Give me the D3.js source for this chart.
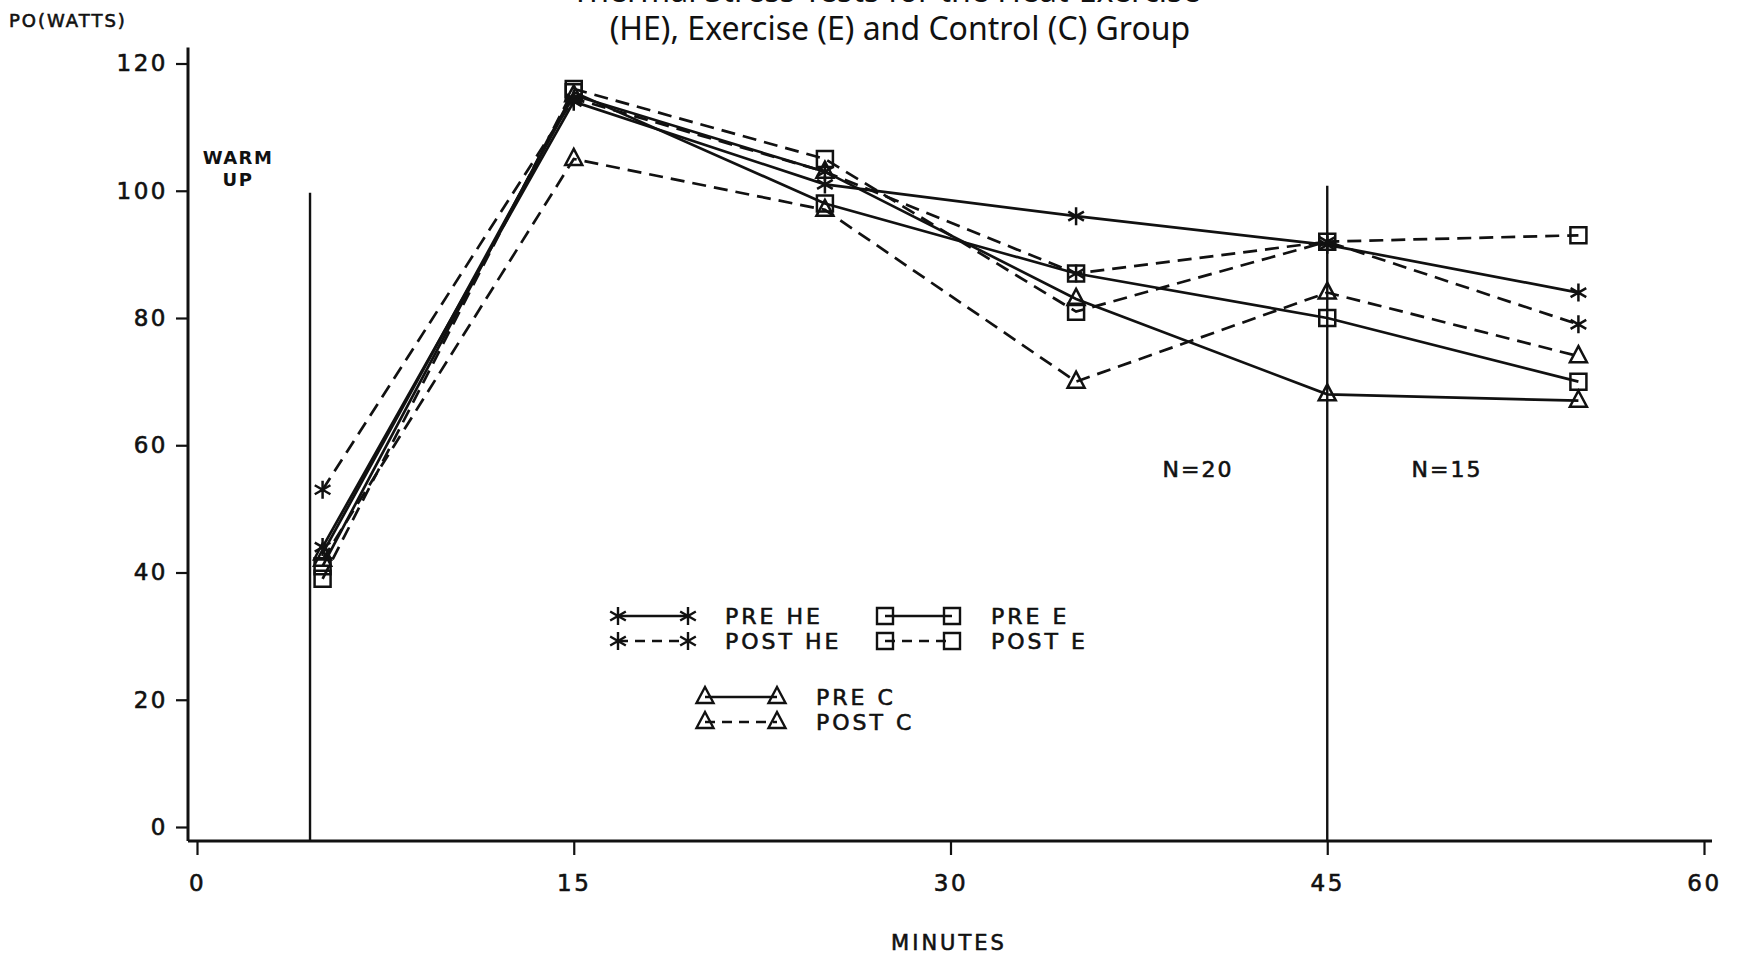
<!DOCTYPE html>
<html>
<head>
<meta charset="utf-8">
<script src="https://cdn.jsdelivr.net/npm/d3@7"></script>
<style>
  body { margin: 0; background: #fff; }
  svg { display: block; }
  text { font-family: "DejaVu Sans", sans-serif; fill: #111; }
  .plot { stroke: #111; stroke-width: 0.6px; }
</style>
</head>
<body>
<script>
// minutes of each measurement
var minutes = [5, 15, 25, 35, 45, 55];

// power output (watts)
var preHE  = [44, 114, 101, 96, 91.5, 84];
var postHE = [53, 114.5, 103, 87, 92, 79];
var preE   = [41, 115.5, 98, 87, 80, 70];
var postE  = [39, 116, 105, 81, 92, 93];
var preC   = [43, 115, 103, 83, 68, 67];
var postC  = [42, 105, 97, 70, 84, 74];

var yTicks = [0, 20, 40, 60, 80, 100, 120];
var xTicks = [0, 15, 30, 45, 60];

var series = [
  {name: "PRE HE",  values: preHE,  mark: "star",   dashed: false},
  {name: "POST HE", values: postHE, mark: "star",   dashed: true},
  {name: "PRE E",   values: preE,   mark: "square", dashed: false},
  {name: "POST E",  values: postE,  mark: "square", dashed: true},
  {name: "PRE C",   values: preC,   mark: "tri",    dashed: false},
  {name: "POST C",  values: postC,  mark: "tri",    dashed: true}
];

var width = 1741, height = 956;

var svg = d3.select("body").append("svg")
  .attr("width", width)
  .attr("height", height);

var x = d3.scaleLinear().domain([0, 60]).range([197, 1704]);
var y = d3.scaleLinear().domain([0, 120]).range([827, 63.5]);
var axisY = 841; // x axis sits a little below zero

// marker shapes, centred on 0,0
function markPath(kind) {
  var p = d3.path();
  if (kind === "star") {
    var r = 9;
    p.moveTo(0, -r); p.lineTo(0, r);
    p.moveTo(-r * 0.87, -r * 0.5); p.lineTo(r * 0.87, r * 0.5);
    p.moveTo(-r * 0.87, r * 0.5); p.lineTo(r * 0.87, -r * 0.5);
  } else if (kind === "square") {
    p.rect(-8, -8, 16, 16);
  } else {
    p.moveTo(0, -10); p.lineTo(8.5, 6); p.lineTo(-8.5, 6); p.closePath();
  }
  return p.toString();
}

// title (top line runs off the page in the original)
svg.append("text")
  .attr("x", 886).attr("y", 2)
  .attr("text-anchor", "middle")
  .style("font-size", "32px")
  .style("font-family", "'Noto Sans', sans-serif")
  .text("Thermal Stress Tests for the Heat-Exercise");

svg.append("text")
  .attr("x", 900).attr("y", 40)
  .attr("text-anchor", "middle")
  .style("font-size", "32px")
  .style("font-family", "'Noto Sans', sans-serif")
  .text("(HE), Exercise (E) and Control (C) Group");

svg.append("text")
  .attr("class", "plot")
  .attr("x", 9).attr("y", 27)
  .style("font-size", "18px")
  .style("letter-spacing", "2px")
  .text("PO(WATTS)");

// y axis
var gy = svg.append("g").attr("transform", "translate(188,0)");
gy.call(d3.axisLeft(y).tickValues(d3.range(0, 121, 5)).tickSize(5).tickFormat(""));
gy.call(d3.axisLeft(y).tickValues(yTicks).tickSize(12).tickPadding(8));
gy.selectAll(".domain").remove();
gy.selectAll(".tick line").attr("stroke", "#111").attr("stroke-width", 2.2);
gy.selectAll(".tick text")
  .attr("class", "plot")
  .style("font-size", "23px")
  .style("letter-spacing", "2.5px")
  .style("font-family", "'DejaVu Sans', sans-serif");

svg.append("line")
  .attr("x1", 188).attr("x2", 188)
  .attr("y1", y(122.5)).attr("y2", axisY)
  .attr("stroke", "#111").attr("stroke-width", 3);

// x axis
var gx = svg.append("g").attr("transform", "translate(0," + axisY + ")");
gx.call(d3.axisBottom(x).tickValues(d3.range(7.5, 60, 15)).tickSize(8).tickFormat(""));
gx.call(d3.axisBottom(x).tickValues(xTicks).tickSize(14).tickPadding(20));
gx.selectAll(".domain").remove();
gx.selectAll(".tick line").attr("stroke", "#111").attr("stroke-width", 2.2);
gx.selectAll(".tick text")
  .attr("class", "plot")
  .style("font-size", "23px")
  .style("letter-spacing", "2.5px")
  .style("font-family", "'DejaVu Sans', sans-serif");

svg.append("line")
  .attr("x1", 188).attr("x2", 1712)
  .attr("y1", axisY).attr("y2", axisY)
  .attr("stroke", "#111").attr("stroke-width", 3.2);

svg.append("text")
  .attr("class", "plot")
  .attr("x", 949).attr("y", 950)
  .attr("text-anchor", "middle")
  .style("font-size", "21px")
  .style("letter-spacing", "3px")
  .text("MINUTES");

// warm up and N split lines
svg.append("line")
  .attr("x1", x(4.5)).attr("x2", x(4.5))
  .attr("y1", y(99.7)).attr("y2", axisY)
  .attr("stroke", "#111").attr("stroke-width", 2.4);
svg.append("line")
  .attr("x1", x(45)).attr("x2", x(45))
  .attr("y1", y(100.8)).attr("y2", axisY)
  .attr("stroke", "#111").attr("stroke-width", 2.4);

svg.append("text")
  .attr("x", 238).attr("y", 164)
  .attr("text-anchor", "middle")
  .style("font-size", "18px").style("font-weight", "bold")
  .style("letter-spacing", "1.5px")
  .text("WARM");
svg.append("text")
  .attr("x", 238).attr("y", 186)
  .attr("text-anchor", "middle")
  .style("font-size", "18px").style("font-weight", "bold")
  .style("letter-spacing", "1.5px")
  .text("UP");

svg.append("text")
  .attr("class", "plot")
  .attr("x", 1198).attr("y", 477)
  .attr("text-anchor", "middle")
  .style("font-size", "22px").style("letter-spacing", "2px")
  .text("N=20");
svg.append("text")
  .attr("class", "plot")
  .attr("x", 1447).attr("y", 477)
  .attr("text-anchor", "middle")
  .style("font-size", "22px").style("letter-spacing", "2px")
  .text("N=15");

// data lines
var line = d3.line()
  .x(function(d, i) { return x(minutes[i]); })
  .y(function(d) { return y(d); });

var groups = svg.selectAll("g.series")
  .data(series)
  .enter().append("g")
  .attr("class", "series");

groups.append("path")
  .attr("d", function(d) { return line(d.values); })
  .attr("fill", "none")
  .attr("stroke", "#111")
  .attr("stroke-width", 2.7)
  .attr("stroke-dasharray", function(d) { return d.dashed ? "14,8" : null; });

groups.selectAll("path.mark")
  .data(function(d) { return d.values.map(function(v, i) { return {v: v, i: i, mark: d.mark}; }); })
  .enter().append("path")
  .attr("class", "mark")
  .attr("d", function(d) { return markPath(d.mark); })
  .attr("transform", function(d) { return "translate(" + x(minutes[d.i]) + "," + y(d.v) + ")"; })
  .attr("fill", "none")
  .attr("stroke", "#111")
  .attr("stroke-width", 2.5);

// legend
var legend = [
  {s: series[0], x1: 618, x2: 688, tx: 725, ty: 616},
  {s: series[1], x1: 618, x2: 688, tx: 725, ty: 641},
  {s: series[2], x1: 885, x2: 952, tx: 991, ty: 616},
  {s: series[3], x1: 885, x2: 952, tx: 991, ty: 641},
  {s: series[4], x1: 705, x2: 777, tx: 816, ty: 697},
  {s: series[5], x1: 705, x2: 777, tx: 816, ty: 722}
];

var lg = svg.selectAll("g.legend")
  .data(legend)
  .enter().append("g")
  .attr("class", "legend");

lg.append("line")
  .attr("x1", function(d) { return d.x1; })
  .attr("x2", function(d) { return d.x2; })
  .attr("y1", function(d) { return d.ty; })
  .attr("y2", function(d) { return d.ty; })
  .attr("stroke", "#111").attr("stroke-width", 2.4)
  .attr("stroke-dasharray", function(d) { return d.s.dashed ? "10,7" : null; });

lg.selectAll("path")
  .data(function(d) { return [{x: d.x1, y: d.ty, m: d.s.mark}, {x: d.x2, y: d.ty, m: d.s.mark}]; })
  .enter().append("path")
  .attr("d", function(d) { return markPath(d.m); })
  .attr("transform", function(d) { return "translate(" + d.x + "," + d.y + ")"; })
  .attr("fill", "none")
  .attr("stroke", "#111").attr("stroke-width", 2.4);

lg.append("text")
  .attr("class", "plot")
  .attr("x", function(d) { return d.tx; })
  .attr("y", function(d) { return d.ty + 8; })
  .style("font-size", "22px")
  .style("letter-spacing", "3px")
  .text(function(d) { return d.s.name; });
</script>
</body>
</html>
